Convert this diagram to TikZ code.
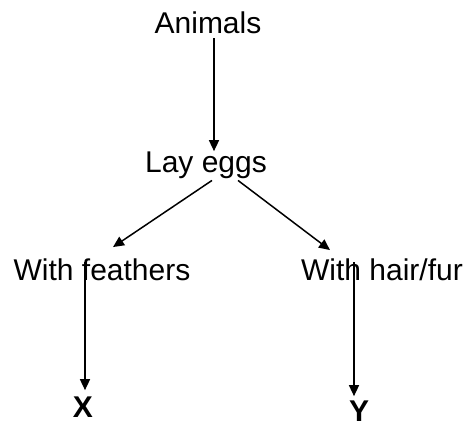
\documentclass[tikz,border=0pt]{standalone}
\usepackage{fontspec}
\setmainfont{Liberation Sans}
\usetikzlibrary{arrows.meta}
\begin{document}
\begin{tikzpicture}[x=1pt,y=1pt,
  label/.style={anchor=base,inner sep=0pt,font=\fontsize{30}{36}\selectfont},
  leaf/.style={label,font=\fontsize{30}{36}\selectfont\bfseries},
  arr/.style={draw=black,line width=1.5pt,-{Triangle[length=11pt,width=10pt]}}]
  \useasboundingbox (0,0) rectangle (471,-426);
  % taxonomy labels
  \node[label] (animals)  at (208,-33)  {Animals};
  \node[label] (lay)      at (206,-172) {Lay eggs};
  \node[label] (feathers) at (102,-280) {With feathers};
  \node[label] (hair)     at (382,-280) {With hair/fur};
  \node[leaf]  (x)        at (83,-417)  {X};
  \node[leaf]  (y)        at (359,-421) {Y};
  % connectors
  \draw[arr] ([xshift=6pt,yshift=-5pt]animals.south) -- ([xshift=8pt]lay.north);
  \draw[arr] ([xshift=6pt,yshift=-2pt]lay.south) -- ([xshift=11pt,yshift=11pt]feathers.north);
  \draw[arr] ([xshift=32pt,yshift=-2pt]lay.south) -- ([xshift=-52pt,yshift=8pt]hair.north);
  \draw[arr] ([xshift=-17pt,yshift=-4pt]feathers.north) -- ([xshift=2pt,yshift=6pt]x.north);
  \draw[arr] ([xshift=-28pt,yshift=-4pt]hair.north) -- ([xshift=-5pt,yshift=4pt]y.north);
\end{tikzpicture}
\end{document}
